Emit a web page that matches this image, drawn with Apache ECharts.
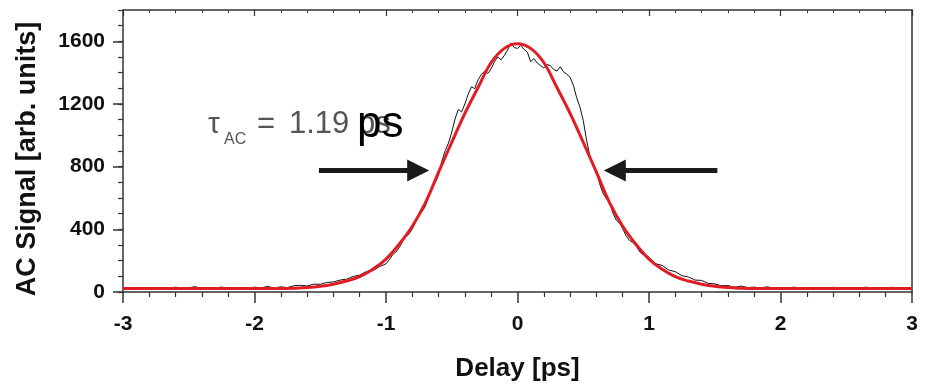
<!DOCTYPE html>
<html>
<head>
<meta charset="utf-8">
<script src="https://cdn.jsdelivr.net/npm/echarts@6/dist/echarts.min.js"></script>
<style>
html,body{margin:0;padding:0;background:#fff;}
#chart{width:929px;height:387px;}
</style>
</head>
<body>
<div id="chart"></div>
<script>
// Measured autocorrelation trace (black)
const measDelay = [
 -3.00,-2.95,-2.90,-2.85,-2.80,-2.75,-2.70,-2.65,-2.60,-2.55,-2.50,-2.45,-2.40,-2.35,-2.30,-2.25,-2.20,-2.15,-2.10,-2.05,
 -2.00,-1.95,-1.90,-1.85,-1.80,-1.75,-1.70,-1.65,-1.60,-1.55,-1.50,-1.45,-1.40,-1.35,-1.30,-1.25,-1.20,-1.15,-1.10,-1.05,
 -1.000,-0.975,-0.950,-0.925,-0.900,-0.875,-0.850,-0.825,-0.800,-0.775,-0.750,-0.725,-0.700,-0.675,-0.650,-0.625,-0.600,-0.575,-0.550,-0.525,
 -0.500,-0.475,-0.450,-0.425,-0.400,-0.375,-0.350,-0.325,-0.300,-0.275,-0.250,-0.225,-0.200,-0.175,-0.150,-0.125,-0.100,-0.075,-0.050,-0.025,
 0.000,0.025,0.050,0.075,0.100,0.125,0.150,0.175,0.200,0.225,0.250,0.275,0.300,0.325,0.350,0.375,0.400,0.425,0.450,0.475,
 0.500,0.525,0.550,0.575,0.600,0.625,0.650,0.675,0.700,0.725,0.750,0.775,0.800,0.825,0.850,0.875,0.900,0.925,0.950,0.975,
 1.00,1.05,1.10,1.15,1.20,1.25,1.30,1.35,1.40,1.45,1.50,1.55,1.60,1.65,1.70,1.75,1.80,1.85,1.90,1.95,
 2.00,2.05,2.10,2.15,2.20,2.25,2.30,2.35,2.40,2.45,2.50,2.55,2.60,2.65,2.70,2.75,2.80,2.85,2.90,2.95,3.00
];
const measSignal = [
 24,29,21,27,25,20,28,23,31,22,27,34,22,28,24,32,21,29,25,23,
 31,26,36,25,33,28,40,43,38,50,49,61,64,76,82,99,108,130,136,162,
 180,205,238,255,282,322,352,371,402,446,492,515,548,610,662,700,748,835,902,950,
 1020,1105,1165,1150,1200,1262,1310,1298,1355,1388,1410,1395,1425,1470,1500,1482,1510,1545,1590,1560,
 1555,1575,1548,1530,1470,1490,1462,1445,1430,1452,1445,1420,1410,1438,1405,1390,1370,1320,1240,1180,
 1095,970,870,815,770,690,630,598,570,505,460,440,405,360,330,318,298,262,240,236,
 222,180,170,140,130,104,96,76,74,55,52,40,41,30,38,28,31,26,33,24,
 27,23,31,25,29,21,27,24,30,26,22,29,24,31,23,28,25,30,24,29,27
];
// Fitted curve (red), delay step 0.1 ps
const fitDelay = [
 -3.0,-2.9,-2.8,-2.7,-2.6,-2.5,-2.4,-2.3,-2.2,-2.1,-2.0,-1.9,-1.8,-1.7,-1.6,-1.5,-1.4,-1.3,-1.2,-1.1,
 -1.0,-0.9,-0.8,-0.7,-0.6,-0.5,-0.4,-0.3,-0.2,-0.1,0.0,0.1,0.2,0.3,0.4,0.5,0.6,0.7,0.8,0.9,
 1.0,1.1,1.2,1.3,1.4,1.5,1.6,1.7,1.8,1.9,2.0,2.1,2.2,2.3,2.4,2.5,2.6,2.7,2.8,2.9,3.0
];
const fitSignal = [
 22,22,22,22,22,22,22,22,22,22,22,22,22,24,28,36,50,70,98,145,
 210,305,420,570,765,955,1140,1305,1465,1555,1585,1555,1465,1305,1140,955,765,570,420,305,
 210,145,98,70,50,36,28,24,22,22,22,22,22,22,22,22,22,22,22,22,22
];
const yMajorTicks = [0, 400, 800, 1200, 1600];
const xTickLabels = ['-3', '-2', '-1', '0', '1', '2', '3'];

const chart = echarts.init(document.getElementById('chart'));
const FONT = 'Liberation Sans, Arial, Helvetica, sans-serif';
const AX = '#333';

const measData = measDelay.map((d, i) => [d, measSignal[i]]);
const fitData = fitDelay.map((d, i) => [d, fitSignal[i]]);

chart.setOption({
  animation: false,
  backgroundColor: '#fff',
  grid: { left: 123, right: 17, top: 10, bottom: 90, containLabel: false },
  xAxis: [
    {
      type: 'value', position: 'bottom', min: -3, max: 3, interval: 1,
      axisLine: { show: true, onZero: false, lineStyle: { color: AX, width: 1.5 } },
      axisTick: { show: true, inside: false, length: 11, lineStyle: { color: AX, width: 1.5 } },
      minorTick: { show: true, splitNumber: 5, length: 5, lineStyle: { color: AX, width: 1.2 } },
      splitLine: { show: false },
      axisLabel: {
        margin: 22, color: '#111', fontFamily: FONT, fontWeight: 'bold', fontSize: 21,
        formatter: v => xTickLabels[Math.round(v + 3)]
      },
      name: 'Delay [ps]', nameLocation: 'middle', nameGap: 64,
      nameTextStyle: { color: '#111', fontFamily: FONT, fontWeight: 'bold', fontSize: 26 }
    },
    {
      type: 'value', position: 'top', min: -3, max: 3, interval: 1,
      axisLine: { show: true, onZero: false, lineStyle: { color: AX, width: 1.5 } },
      axisTick: { show: true, inside: true, length: 6, lineStyle: { color: AX, width: 1.2 } },
      minorTick: { show: true, splitNumber: 5, length: 3, lineStyle: { color: AX, width: 1 } },
      splitLine: { show: false },
      axisLabel: { show: false }
    }
  ],
  yAxis: [
    {
      type: 'value', position: 'left', min: 0, max: 1800, interval: 100,
      axisLine: { show: true, onZero: false, lineStyle: { color: AX, width: 1.5 } },
      axisTick: { show: true, inside: false, length: 5, lineStyle: { color: AX, width: 1.2 } },
      splitLine: { show: false },
      axisLabel: {
        customValues: yMajorTicks,
        formatter: v => String(v),
        margin: 18, color: '#111', fontFamily: FONT, fontWeight: 'bold', fontSize: 21
      },
      name: 'AC Signal [arb. units]', nameLocation: 'middle', nameGap: 82, nameRotate: 90,
      nameTextStyle: { color: '#111', fontFamily: FONT, fontWeight: 'bold', fontSize: 27, padding: [0, 16, 0, 0] }
    },
    {
      type: 'value', position: 'left', offset: 0, min: 0, max: 1800,
      axisLine: { show: false, onZero: false },
      axisTick: { show: true, inside: false, length: 10, customValues: yMajorTicks, lineStyle: { color: AX, width: 1.5 } },
      splitLine: { show: false },
      axisLabel: { show: false }
    },
    {
      type: 'value', position: 'right', offset: 0, min: 0, max: 1800,
      axisLine: { show: true, onZero: false, lineStyle: { color: AX, width: 1.5 } },
      axisTick: { show: false },
      splitLine: { show: false },
      axisLabel: { show: false }
    }
  ],
  series: [
    {
      name: 'measured', type: 'line', xAxisIndex: 0, yAxisIndex: 0,
      data: measData, showSymbol: false, smooth: false,
      lineStyle: { color: '#111', width: 1 },
      z: 2,
      markLine: {
        silent: true, animation: false,
        symbol: ['none', 'triangle'], symbolSize: [22, 22],
        label: { show: false },
        lineStyle: { color: '#1a1a1a', width: 5, type: 'solid' },
        emphasis: { disabled: true },
        data: [
          [{ coord: [-1.51, 775] }, { coord: [-0.755, 775] }],
          [{ coord: [1.52, 775] }, { coord: [0.74, 775] }]
        ]
      }
    },
    {
      name: 'fit', type: 'line', xAxisIndex: 0, yAxisIndex: 0,
      data: fitData, showSymbol: false, smooth: 0.4,
      lineStyle: { color: '#e31b23', width: 3 },
      z: 3
    }
  ],
  graphic: [
    { type: 'text', left: 208, top: 110, z: 10,
      style: { text: 'τ', fill: '#555', font: 'normal 30px ' + FONT } },
    { type: 'text', left: 224, top: 132, z: 10,
      style: { text: 'AC', fill: '#555', font: 'normal 16px ' + FONT } },
    { type: 'text', left: 257, top: 109, z: 10,
      style: { text: '=', fill: '#555', font: 'normal 31px ' + FONT } },
    { type: 'text', left: 289, top: 109, z: 10,
      style: { text: '1.19 ps', fill: '#555', font: 'normal 31px ' + FONT } },
    { type: 'text', left: 357, top: 103, z: 11,
      style: { text: 'ps', fill: '#000', font: 'normal 44px ' + FONT } }
  ]
});
</script>
</body>
</html>
